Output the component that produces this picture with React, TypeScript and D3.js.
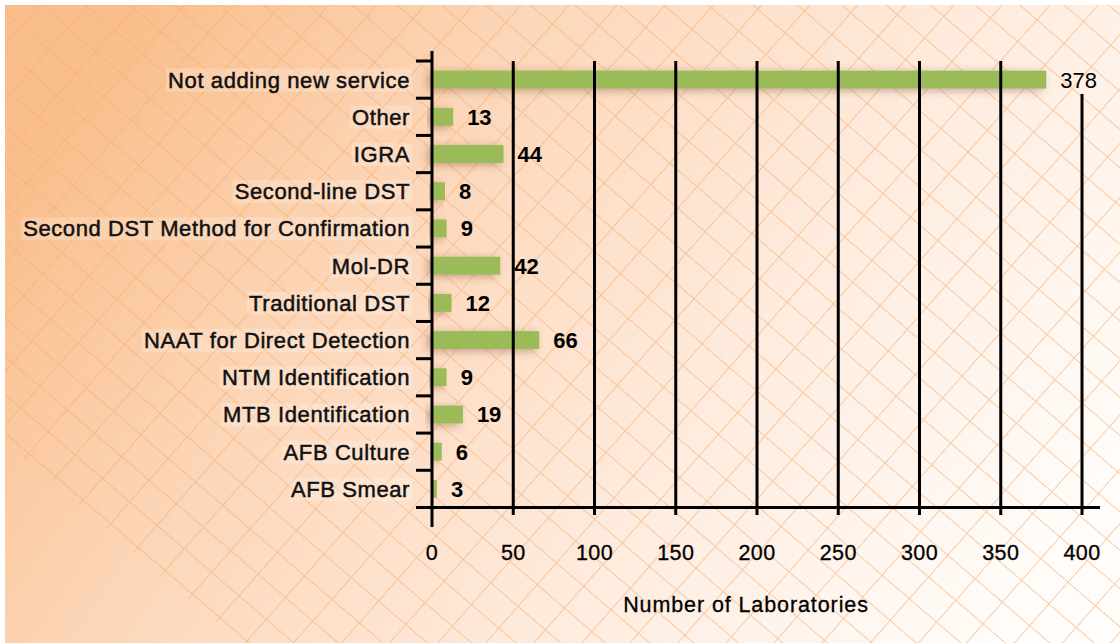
import React, { useEffect, useRef } from "react";
import * as d3 from "d3";

const categories = [
  "Not adding new service",
  "Other",
  "IGRA",
  "Second-line DST",
  "Second DST Method for Confirmation",
  "Mol-DR",
  "Traditional DST",
  "NAAT for Direct Detection",
  "NTM Identification",
  "MTB Identification",
  "AFB Culture",
  "AFB Smear",
];
const values = [378, 13, 44, 8, 9, 42, 12, 66, 9, 19, 6, 3];
const xTicks = [0, 50, 100, 150, 200, 250, 300, 350, 400];
const xTitle = "Number of Laboratories";

const W = 1120;
const H = 643;

export default function App() {
  const ref = useRef<SVGSVGElement | null>(null);

  useEffect(() => {
    document.body.style.margin = "0";
    const svg = d3.select(ref.current);
    svg.selectAll("*").remove();

    const x = d3.scaleLinear().domain([0, 400]).range([432, 1082]);
    const y = d3
      .scaleBand<string>()
      .domain(categories)
      .range([61, 507.5])
      .paddingInner(0.52)
      .paddingOuter(0.26);
    const step = y.step();
    const top = 61;

    const defs = svg.append("defs");
    const grad = defs
      .append("linearGradient")
      .attr("id", "bg")
      .attr("x1", 0)
      .attr("y1", 0.3)
      .attr("x2", 1)
      .attr("y2", 0.7);
    [
      [0, "#f9be8b"],
      [0.3, "#fcd6b8"],
      [0.65, "#feebdd"],
      [1, "#fffcf9"],
    ].forEach(([o, c]) => grad.append("stop").attr("offset", o as number).attr("stop-color", c as string));

    const mkPattern = (id: string, angle: number, s: number) => {
      const p = defs
        .append("pattern")
        .attr("id", id)
        .attr("patternUnits", "userSpaceOnUse")
        .attr("width", 20)
        .attr("height", s)
        .attr("patternTransform", `translate(975,578) rotate(${angle})`);
      p.append("rect").attr("x", 0).attr("y", 0).attr("width", 20).attr("height", 1).attr("fill", "#f6ae72");
    };
    mkPattern("latA", 40.7, 29);
    mkPattern("latB", -48.5, 36);

    const clip = defs.append("clipPath").attr("id", "latClip");
    clip.append("polygon").attr("points", `5,5 ${W},5 ${W},${H} 240,${H} 50,480 5,442`);

    const f = defs
      .append("filter")
      .attr("id", "shadow")
      .attr("x", "-20%")
      .attr("y", "-100%")
      .attr("width", "140%")
      .attr("height", "300%");
    f.append("feGaussianBlur").attr("in", "SourceAlpha").attr("stdDeviation", 4).attr("result", "b");
    f.append("feOffset").attr("in", "b").attr("dx", -4).attr("dy", 2).attr("result", "o");
    f.append("feFlood").attr("flood-color", "#6b3a22").attr("flood-opacity", 0.4).attr("result", "c");
    f.append("feComposite").attr("in", "c").attr("in2", "o").attr("operator", "in").attr("result", "s");
    const m = f.append("feMerge");
    m.append("feMergeNode").attr("in", "s");
    m.append("feMergeNode").attr("in", "SourceGraphic");

    // background
    svg.append("rect").attr("x", 0).attr("y", 0).attr("width", W).attr("height", H).attr("fill", "#fff");
    svg.append("rect").attr("x", 5).attr("y", 5).attr("width", W - 5).attr("height", H - 5).attr("fill", "url(#bg)");
    const lat = svg.append("g").attr("clip-path", "url(#latClip)").attr("opacity", 0.6);
    lat.append("rect").attr("x", 5).attr("y", 5).attr("width", W).attr("height", H).attr("fill", "url(#latA)");
    lat.append("rect").attr("x", 5).attr("y", 5).attr("width", W).attr("height", H).attr("fill", "url(#latB)");

    const font = "'Liberation Sans', Arial, Helvetica, sans-serif";

    // category labels
    const lab = svg.append("g");
    categories.forEach((c) => {
      const cy = (y(c) as number) + y.bandwidth() / 2;
      const t = lab
        .append("text")
        .attr("x", 410)
        .attr("y", cy)
        .attr("dy", "0.36em")
        .attr("text-anchor", "end")
        .attr("font-family", font)
        .attr("font-size", 22)
        .attr("letter-spacing", 0.6)
        .attr("fill", "#111")
        .attr("stroke", "#111")
        .attr("stroke-width", 0.5)
        .text(c);
      const bb = (t.node() as SVGTextElement).getBBox();
      lab
        .insert("rect", "text")
        .attr("x", bb.x - 2)
        .attr("y", bb.y + 1)
        .attr("width", bb.width + 4)
        .attr("height", bb.height - 2)
        .attr("fill", "#fff")
        .attr("opacity", 0.22);
    });

    // bars
    svg
      .append("g")
      .selectAll("rect")
      .data(values)
      .join("rect")
      .attr("x", x(0))
      .attr("y", (_, i) => y(categories[i]) as number)
      .attr("width", (d) => x(d) - x(0))
      .attr("height", y.bandwidth())
      .attr("fill", "#9bbb59")
      .attr("filter", "url(#shadow)");

    // gridlines
    const gl = svg.append("g").attr("stroke", "#000").attr("stroke-width", 3);
    xTicks.slice(1).forEach((t) => {
      gl.append("line")
        .attr("x1", x(t))
        .attr("x2", x(t))
        .attr("y1", t === 400 ? 94 : top)
        .attr("y2", 515);
    });
    // y axis
    gl.append("line").attr("x1", x(0)).attr("x2", x(0)).attr("y1", 51).attr("y2", 527);
    d3.range(categories.length + 1).forEach((k) => {
      const yy = top + k * step;
      gl.append("line").attr("x1", 416).attr("x2", x(0)).attr("y1", yy).attr("y2", yy);
    });
    // baseline
    gl.append("line").attr("x1", x(0)).attr("x2", 1100).attr("y1", 507.5).attr("y2", 507.5);

    // value labels
    svg
      .append("g")
      .selectAll("text")
      .data(values)
      .join("text")
      .attr("x", (d) => x(d) + 14)
      .attr("y", (_, i) => (y(categories[i]) as number) + y.bandwidth() / 2)
      .attr("dy", "0.36em")
      .attr("font-family", font)
      .attr("font-size", 22)
      .attr("font-weight", (_, i) => (i === 0 ? "normal" : "bold"))
      .attr("fill", "#000")
      .text((d) => String(d));

    // tick labels
    svg
      .append("g")
      .selectAll("text")
      .data(xTicks)
      .join("text")
      .attr("x", (d) => x(d))
      .attr("y", 552)
      .attr("dy", "0.36em")
      .attr("text-anchor", "middle")
      .attr("font-family", font)
      .attr("font-size", 21.5)
      .attr("letter-spacing", 0.4)
      .attr("fill", "#000")
      .attr("stroke", "#000")
      .attr("stroke-width", 0.3)
      .text((d) => String(d));

    svg
      .append("text")
      .attr("x", 746)
      .attr("y", 604)
      .attr("dy", "0.36em")
      .attr("text-anchor", "middle")
      .attr("font-family", font)
      .attr("font-size", 21.5)
      .attr("letter-spacing", 0.9)
      .attr("fill", "#000")
      .attr("stroke", "#000")
      .attr("stroke-width", 0.3)
      .text(xTitle);
  }, []);

  return (
    <svg
      ref={ref}
      width={W}
      height={H}
      style={{ position: "absolute", left: 0, top: 0, display: "block" }}
    />
  );
}
